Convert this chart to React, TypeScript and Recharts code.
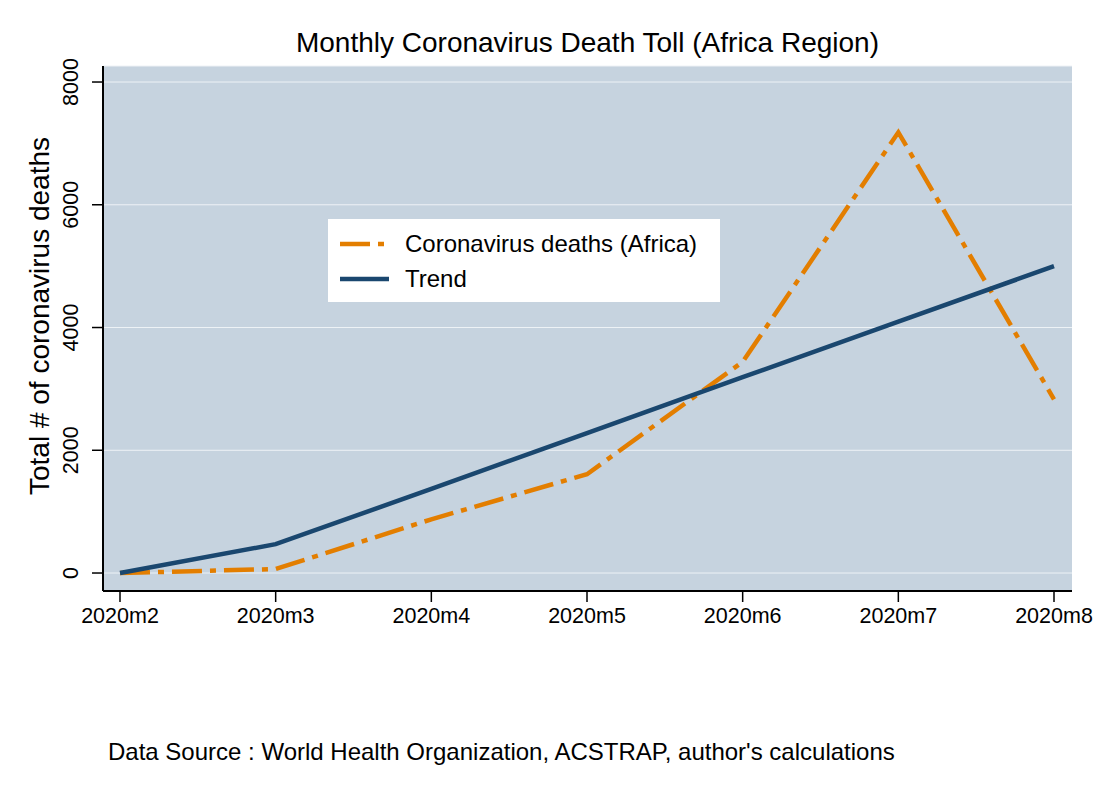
import { LineChart, Line, XAxis, YAxis, CartesianGrid } from 'recharts';

const months = ['2020m2', '2020m3', '2020m4', '2020m5', '2020m6', '2020m7', '2020m8'];
const deaths = [0, 65, 875, 1610, 3440, 7180, 2830];
const trend = [0, 470, 1370, 2280, 3190, 4095, 5000];
const yTicks = [0, 2000, 4000, 6000, 8000];

const FONT = '"Liberation Sans", Arial, sans-serif';
const ORANGE = '#e37e00';
const NAVY = '#1a476f';
const DASH = '30 8 6 8';

const chartData = months.map((m, i) => ({ month: m, deaths: deaths[i], trend: trend[i] }));

function YTick({ y, payload }: any) {
  return (
    <text
      x={71}
      y={y}
      transform={`rotate(-90, 71, ${y})`}
      textAnchor="middle"
      dominantBaseline="central"
      fontSize={21.5}
      fontFamily={FONT}
      fill="#000"
    >
      {payload.value}
    </text>
  );
}

function XTick({ x, payload }: any) {
  return (
    <text x={x} y={623} textAnchor="middle" fontSize={21.5} fontFamily={FONT} fill="#000">
      {payload.value}
    </text>
  );
}

export default function App() {
  return (
    <div style={{ position: 'absolute', left: 0, top: 0, width: 1100, height: 800, background: '#fff', fontFamily: FONT }}>
      <LineChart width={1100} height={800} data={chartData} margin={{ top: 66, right: 28, bottom: 159, left: 0 }}>
        <CartesianGrid vertical={false} stroke="#eef2f6" strokeWidth={1} fill="#c6d3df" />
        <XAxis
          dataKey="month"
          height={50}
          padding={{ left: 17, right: 18 }}
          axisLine={{ stroke: '#000', strokeWidth: 2 }}
          tickLine={{ stroke: '#000', strokeWidth: 1.5 }}
          tickSize={11}
          tick={<XTick />}
          interval={0}
        />
        <YAxis
          width={103}
          domain={[-293, 8261]}
          ticks={yTicks}
          allowDataOverflow
          axisLine={{ stroke: '#000', strokeWidth: 2 }}
          tickLine={{ stroke: '#000', strokeWidth: 1.5 }}
          tickSize={11}
          tick={<YTick />}
        />
        <Line
          type="linear"
          dataKey="deaths"
          stroke={ORANGE}
          strokeWidth={4.5}
          strokeDasharray={DASH}
          dot={false}
          activeDot={false}
          isAnimationActive={false}
        />
        <Line
          type="linear"
          dataKey="trend"
          stroke={NAVY}
          strokeWidth={4.5}
          dot={false}
          activeDot={false}
          isAnimationActive={false}
        />
      </LineChart>

      <div
        style={{
          position: 'absolute',
          left: 103,
          width: 969,
          top: 29,
          textAlign: 'center',
          fontSize: 28,
          lineHeight: '28px',
          color: '#000',
        }}
      >
        Monthly Coronavirus Death Toll (Africa Region)
      </div>

      <div
        style={{
          position: 'absolute',
          left: 40,
          top: 316,
          transform: 'translate(-50%, -50%) rotate(-90deg)',
          whiteSpace: 'nowrap',
          fontSize: 28,
          lineHeight: '28px',
          color: '#000',
        }}
      >
        Total # of coronavirus deaths
      </div>

      <div
        style={{
          position: 'absolute',
          left: 328,
          top: 219,
          width: 392,
          height: 83,
          background: '#fff',
        }}
      >
        {[
          { name: 'Coronavirus deaths (Africa)', color: ORANGE, dash: DASH, cy: 25 },
          { name: 'Trend', color: NAVY, dash: undefined, cy: 60 },
        ].map((item) => (
          <div key={item.name} style={{ position: 'absolute', left: 0, top: item.cy - 14, height: 28, width: 392 }}>
            <svg width={70} height={28} style={{ position: 'absolute', left: 0, top: 0 }}>
              <line x1={12} y1={14} x2={61} y2={14} stroke={item.color} strokeWidth={4.5} strokeDasharray={item.dash} />
            </svg>
            <span
              style={{
                position: 'absolute',
                left: 77,
                top: 0,
                fontSize: 24,
                lineHeight: '28px',
                whiteSpace: 'nowrap',
                color: '#000',
              }}
            >
              {item.name}
            </span>
          </div>
        ))}
      </div>

      <div
        style={{
          position: 'absolute',
          left: 108,
          top: 738,
          fontSize: 24,
          lineHeight: '28px',
          whiteSpace: 'nowrap',
          color: '#000',
        }}
      >
        Data Source : World Health Organization, ACSTRAP, author's calculations
      </div>
    </div>
  );
}
